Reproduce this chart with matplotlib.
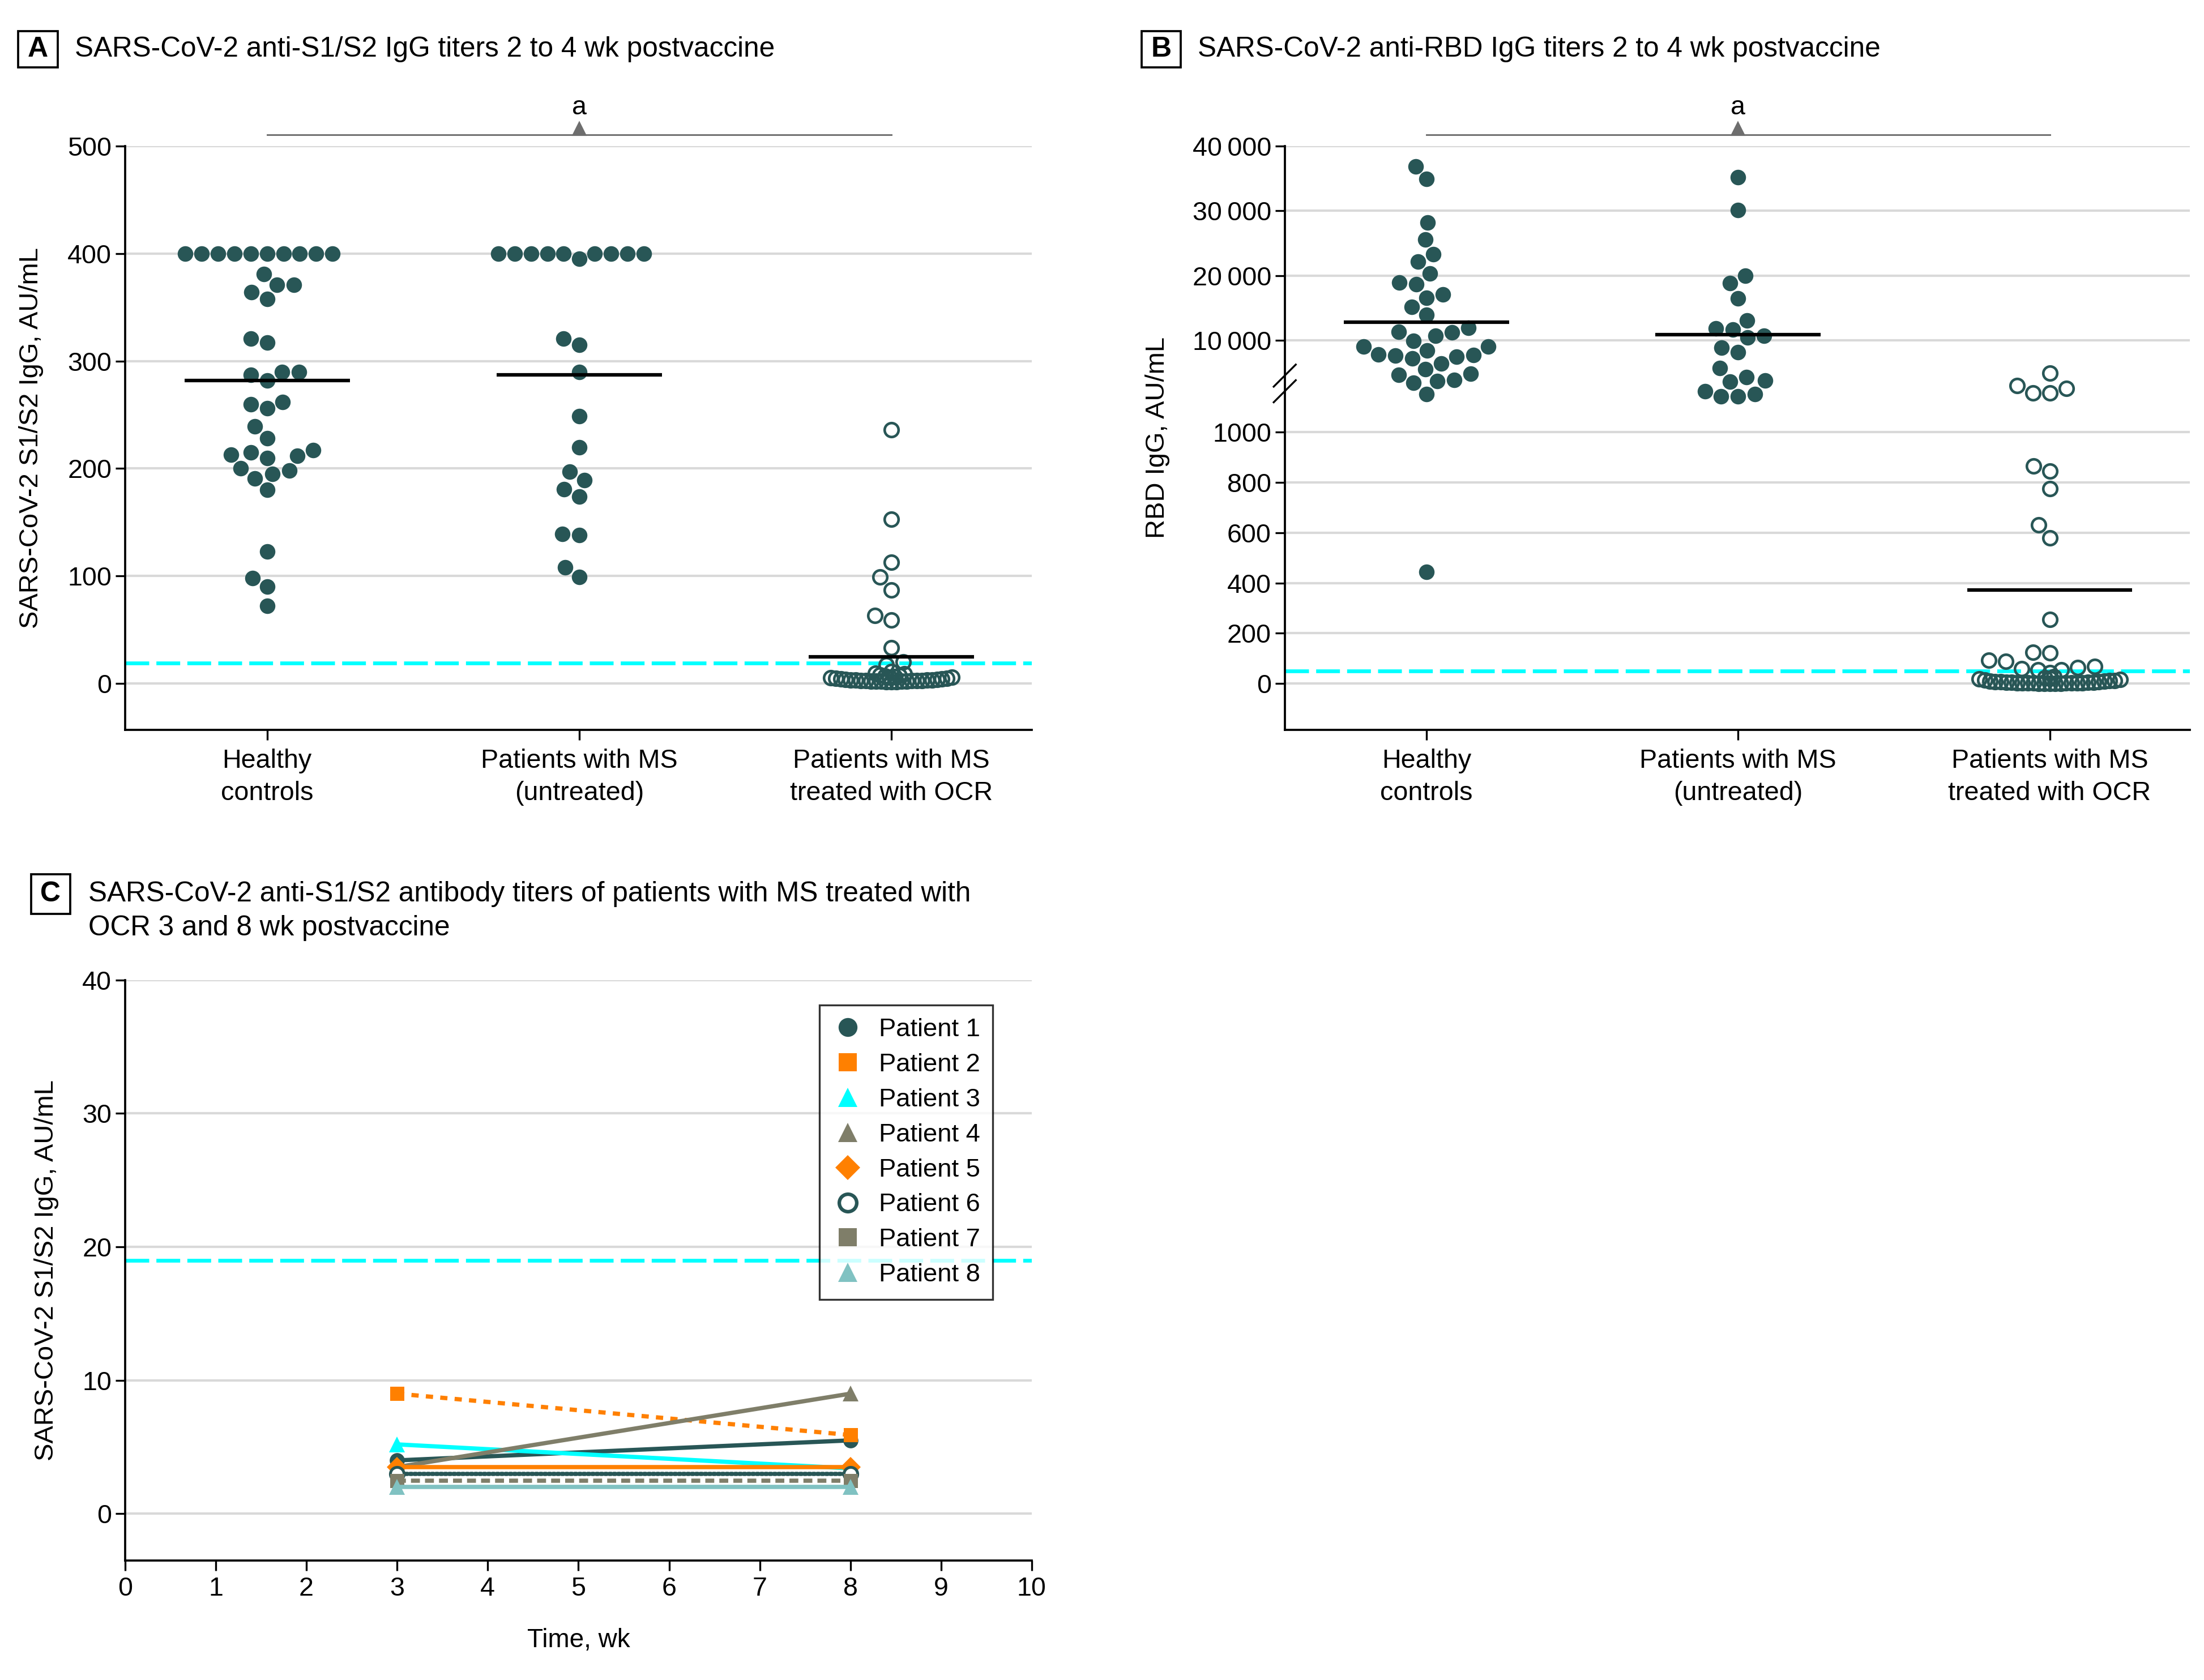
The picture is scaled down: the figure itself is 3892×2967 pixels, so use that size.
import numpy as np
import matplotlib
matplotlib.use('Agg')
import matplotlib.pyplot as plt
import matplotlib.transforms as mtransforms
from matplotlib.patches import Rectangle
from matplotlib.lines import Line2D

plt.rcParams['font.family'] = ['Liberation Sans', 'DejaVu Sans']

# ------------------------------------------------------------------ data
groups = ['Healthy\ncontrols', 'Patients with MS\n(untreated)', 'Patients with MS\ntreated with OCR']

# Panel A: anti-S1/S2 IgG (AU/mL)
s1s2_healthy = [400, 400, 400, 400, 400, 400, 400, 400, 400, 400,
                381, 371, 371, 364, 358, 321, 317, 290, 290, 287, 282,
                262, 260, 256, 239, 228, 217, 213, 210, 212, 215,
                198, 200, 195, 191, 180, 123, 98, 90, 72]
s1s2_ms = [400, 400, 400, 400, 395, 400, 400, 400, 400, 400,
           321, 315, 290, 249, 220, 197, 189, 181, 174, 139, 138, 108, 99]
s1s2_ocr = [236, 153, 113, 99, 87, 63, 59, 33, 20, 17.5, 11,
            9.5, 8.7, 8.0, 7.6, 7.0, 6.5, 6.0, 5.6, 5.2, 4.9, 4.6, 4.3, 4.0, 3.8, 3.6, 3.4,
            3.2, 3.0, 2.9, 2.8, 2.7, 2.6, 2.5, 2.4, 2.3, 2.2, 2.1, 2.0, 1.9, 1.8, 1.7, 1.6]
s1s2_means = [281.7, 287.4, 24.6]
s1s2_cutoff = 19

# Panel B: anti-RBD IgG (AU/mL)
rbd_healthy = [36900, 34900, 28200, 25600, 23300, 22200, 20300, 18900, 18700, 17100,
               16600, 15200, 13900, 11900, 11300, 11200, 10700, 9900, 9000, 9000,
               8400, 7800, 7700, 7600, 7500, 7200, 6400, 5500, 4800, 4700,
               3900, 3700, 3400, 1700, 443]
rbd_ms = [35200, 30100, 20000, 18800, 16500, 13100, 11800, 11700, 10700, 10400,
          8900, 8200, 5700, 4300, 3800, 3600, 2100, 1700, 1300, 1300]
rbd_ocr = [4950, 2970, 2530, 1860, 1860, 865, 845, 775, 630, 578, 256, 125, 122,
           92, 88, 68, 64, 60, 54, 54, 44,
           28, 24, 21, 18, 16, 14, 12, 11, 10, 9, 8, 7, 6.5, 6, 5.5, 5, 4.5, 4,
           3.6, 3.2, 2.8, 2.5, 2.2, 2.0, 1.8, 1.6, 1.4, 1.2, 1.0, 0.8]
rbd_means = [12775, 10890, 372]
rbd_cutoff = 50
rbd_yticks = [0, 200, 400, 600, 800, 1000, 10000, 20000, 30000, 40000]
rbd_yticklabels = ['0', '200', '400', '600', '800', '1000',
                   '10\u2009000', '20\u2009000', '30\u2009000', '40\u2009000']

# Panel C: OCR patients at 3 and 8 weeks
weeks = [3, 8]
patients = ['Patient 1', 'Patient 2', 'Patient 3', 'Patient 4',
            'Patient 5', 'Patient 6', 'Patient 7', 'Patient 8']
patient_1 = [4.0, 5.5]
patient_2 = [9.0, 5.9]
patient_3 = [5.2, 3.4]
patient_4 = [3.5, 9.0]
patient_5 = [3.5, 3.5]
patient_6 = [3.0, 3.0]
patient_7 = [2.5, 2.5]
patient_8 = [2.0, 2.0]
c_cutoff = 19

# ------------------------------------------------------------------ style
DARK = '#285656'
ORANGE = '#ff8000'
CYAN = '#00ffff'
OLIVE = '#7f7e69'
LTEAL = '#80c2c2'
GRID = '#d9d9d9'

DPI = 300
fig = plt.figure(figsize=(3892 / DPI, 2967 / DPI), dpi=DPI)
RW, RH = 1568.0, 1195.0


def fx(x):
    return x / RW


def fy(y):
    return 1 - y / RH


axA = fig.add_axes([fx(89), fy(519), fx(734) - fx(89), fy(104) - fy(519)])
axB = fig.add_axes([fx(914), fy(519), fx(1558) - fx(914), fy(104) - fy(519)])
axC = fig.add_axes([fx(89), fy(1110), fx(734) - fx(89), fy(697) - fy(1110)])

TICK_FS = 11.2


def style(ax):
    for s in ['top', 'right']:
        ax.spines[s].set_visible(False)
    for s in ['left', 'bottom']:
        ax.spines[s].set_linewidth(0.9)
        ax.spines[s].set_color('black')
    ax.tick_params(axis='both', direction='out', length=4.2, width=0.8,
                   color='black', labelsize=TICK_FS)
    ax.tick_params(axis='y', pad=1.5)
    ax.grid(axis='y', color=GRID, lw=1.0)
    ax.set_axisbelow(True)


for ax in (axA, axB, axC):
    style(ax)

# ---- panel B broken scale
BRK = 1000.0
GAP = 133.0
K = 0.02572


def fwd(v):
    v = np.asarray(v, float)
    return np.where(v <= BRK, v, BRK + GAP + (v - BRK) * K)


def inv(t):
    t = np.asarray(t, float)
    return np.where(t <= BRK, t, BRK + np.maximum(t - BRK - GAP, 0) / K)


axB.set_yscale('function', functions=(fwd, inv))

for ax in (axA, axB):
    ax.set_xlim(-0.455, 2.45)
    ax.set_xticks(range(3))
    ax.set_xticklabels(groups, linespacing=1.38)
    ax.tick_params(axis='x', pad=3.8)

axA.set_ylim(-43, 500)
axA.set_yticks(range(0, 501, 100))
axB.set_ylim(-183, 40000)
axB.set_yticks(rbd_yticks)
axB.set_yticklabels(rbd_yticklabels)
axB.yaxis.set_minor_locator(matplotlib.ticker.NullLocator())

SPACING_PX = 30.0
CAT_PX = 222 * 3892 / RW
MAXW_PX = 0.47 * CAT_PX


def swarm_x(ax, center, values, spacing_px=SPACING_PX, max_width_px=MAXW_PX):
    vals = np.asarray(values, float)
    n = len(vals)
    pts = ax.transData.transform(np.column_stack([np.full(n, center), vals]))
    x0 = pts[0, 0]
    ys = pts[:, 1]
    cap = max_width_px / spacing_px + 1
    counts = np.array([(np.abs(ys - y) < spacing_px / 2).sum() for y in ys])
    deff = spacing_px * np.minimum(1.0, cap / counts)
    xs = np.zeros(n)
    placed = []
    for i in np.argsort(ys, kind='stable'):
        cands = [0.0]
        for j in placed:
            d = min(deff[i], deff[j])
            dy = ys[i] - ys[j]
            if abs(dy) < d:
                dx = np.sqrt(d * d - dy * dy)
                cands.extend([xs[j] + dx, xs[j] - dx])
        cands.sort(key=lambda c: (abs(c), c))
        for c in cands:
            if all((c - xs[j]) ** 2 + (ys[i] - ys[j]) ** 2 >= min(deff[i], deff[j]) ** 2 - 1e-6
                   for j in placed):
                xs[i] = c
                break
        placed.append(i)
    invt = ax.transData.inverted()
    return invt.transform(np.column_stack([x0 + xs, ys]))[:, 0]


def dot_panel(ax, data, means, cutoff):
    for i, vals in enumerate(data):
        xs = swarm_x(ax, i, vals)
        if i < 2:
            ax.plot(xs, vals, 'o', ls='none', ms=6.6, mfc=DARK, mec=DARK, mew=0.0, zorder=3)
        else:
            ax.plot(xs, vals, 'o', ls='none', ms=5.9, mfc='none', mec=DARK, mew=1.1, zorder=3)
        ax.hlines(means[i], i - 0.265, i + 0.265, color='black', lw=1.5, zorder=4)
    ax.axhline(cutoff, color=CYAN, lw=1.6, dashes=(6.3, 1.9), zorder=2)
    trans = mtransforms.blended_transform_factory(ax.transData, ax.transAxes)
    ax.plot([0, 2], [1.0201, 1.0201], color='#6e6e6e', lw=0.7, transform=trans, clip_on=False)
    ax.plot([1], [1.0293], marker='^', ms=5, color='#6e6e6e', transform=trans, clip_on=False)
    ax.text(1, 1.066, 'a', ha='center', va='center', fontsize=TICK_FS, transform=trans)


dot_panel(axA, [s1s2_healthy, s1s2_ms, s1s2_ocr], s1s2_means, s1s2_cutoff)
dot_panel(axB, [rbd_healthy, rbd_ms, rbd_ocr], rbd_means, rbd_cutoff)

# break marks on panel B axis
bdx = 19.5 / ((1558 - 914) * 3892 / RW)
bdy = 19.5 / ((519 - 104) * 2967 / RH)
for yc in (0.6068, 0.580):
    axB.plot([-bdx, bdx], [yc - bdy, yc + bdy], transform=axB.transAxes,
             color='black', lw=0.8, clip_on=False, zorder=5)

axA.set_ylabel('SARS-CoV-2 S1/S2 IgG, AU/mL', fontsize=11.3)
axA.yaxis.set_label_coords(-0.090, 0.5)
axB.set_ylabel('RBD IgG, AU/mL', fontsize=11.3)
axB.yaxis.set_label_coords(-0.127, 0.5)

# ---- panel C
axC.set_xlim(0, 10)
axC.set_ylim(-3.5, 40)
axC.set_xticks(range(11))
axC.set_yticks(range(0, 41, 10))
axC.tick_params(axis='x', pad=2.5)
axC.axhline(c_cutoff, color=CYAN, lw=1.6, dashes=(6.3, 1.9), zorder=2)

c_series = [patient_1, patient_2, patient_3, patient_4,
            patient_5, patient_6, patient_7, patient_8]
c_markers = ['o', 's', '^', '^', 'D', 'o', 's', '^']
c_colors = [DARK, ORANGE, CYAN, OLIVE, ORANGE, DARK, OLIVE, LTEAL]
c_dashes = [None, (1.7, 1.7), None, None, None, (0.47, 0.55), (2.1, 1.2), None]
c_ms = [6.4, 6.0, 6.6, 6.6, 6.0, 5.8, 6.0, 6.6]
handles = []
for k, vals in enumerate(c_series):
    filled = k != 5
    kw = dict(color=c_colors[k], lw=1.8, marker=c_markers[k], ms=c_ms[k],
              mfc=c_colors[k] if filled else 'white', mec=c_colors[k],
              mew=0 if filled else 1.2, zorder=3 + k * 0.01, clip_on=False)
    line, = axC.plot(weeks, vals, **kw)
    if c_dashes[k] is not None:
        line.set_dashes(c_dashes[k])
        if k == 5:
            line.set_dash_capstyle('round')
    handles.append(Line2D([], [], ls='none', marker=c_markers[k], ms=c_ms[k] + 1.6,
                          mfc=c_colors[k] if filled else 'white', mec=c_colors[k],
                          mew=0 if filled else 1.5))

leg = axC.legend(handles, patients, loc='upper left', bbox_to_anchor=(0.7659, 0.9564),
                 borderaxespad=0, fontsize=10.9, frameon=True, fancybox=False,
                 edgecolor='black', handlelength=1.2, handletextpad=0.6,
                 borderpad=0.5, labelspacing=0.46)
leg.get_frame().set_linewidth(0.8)

axC.set_ylabel('SARS-CoV-2 S1/S2 IgG, AU/mL', fontsize=11.3)
axC.yaxis.set_label_coords(-0.073, 0.5)
axC.set_xlabel('Time, wk', fontsize=11.0)
axC.xaxis.set_label_coords(0.5, -0.116)

# ---- panel letters and titles
def letter_box(x0, y0, x1, y1, letter):
    fig.patches.append(Rectangle((fx(x0), fy(y1)), fx(x1) - fx(x0), fy(y0) - fy(y1),
                                 transform=fig.transFigure, fc='white', ec='black', lw=0.9))
    fig.text(fx((x0 + x1) / 2), fy((y0 + y1) / 2), letter, ha='center', va='center',
             fontsize=12, fontweight='bold')


TITLE_FS = 11.9
letter_box(13, 22, 41, 48, 'A')
fig.text(fx(53), fy(35), 'SARS-CoV-2 anti-S1/S2 IgG titers 2 to 4 wk postvaccine',
         ha='left', va='center', fontsize=TITLE_FS)
letter_box(812, 22, 840, 48, 'B')
fig.text(fx(852), fy(35), 'SARS-CoV-2 anti-RBD IgG titers 2 to 4 wk postvaccine',
         ha='left', va='center', fontsize=TITLE_FS)
letter_box(22, 622, 50, 650, 'C')
fig.text(fx(63), fy(636), 'SARS-CoV-2 anti-S1/S2 antibody titers of patients with MS treated with',
         ha='left', va='center', fontsize=TITLE_FS)
fig.text(fx(63), fy(660), 'OCR 3 and 8 wk postvaccine',
         ha='left', va='center', fontsize=TITLE_FS)

fig.savefig('out.png', dpi=DPI, facecolor='white')
